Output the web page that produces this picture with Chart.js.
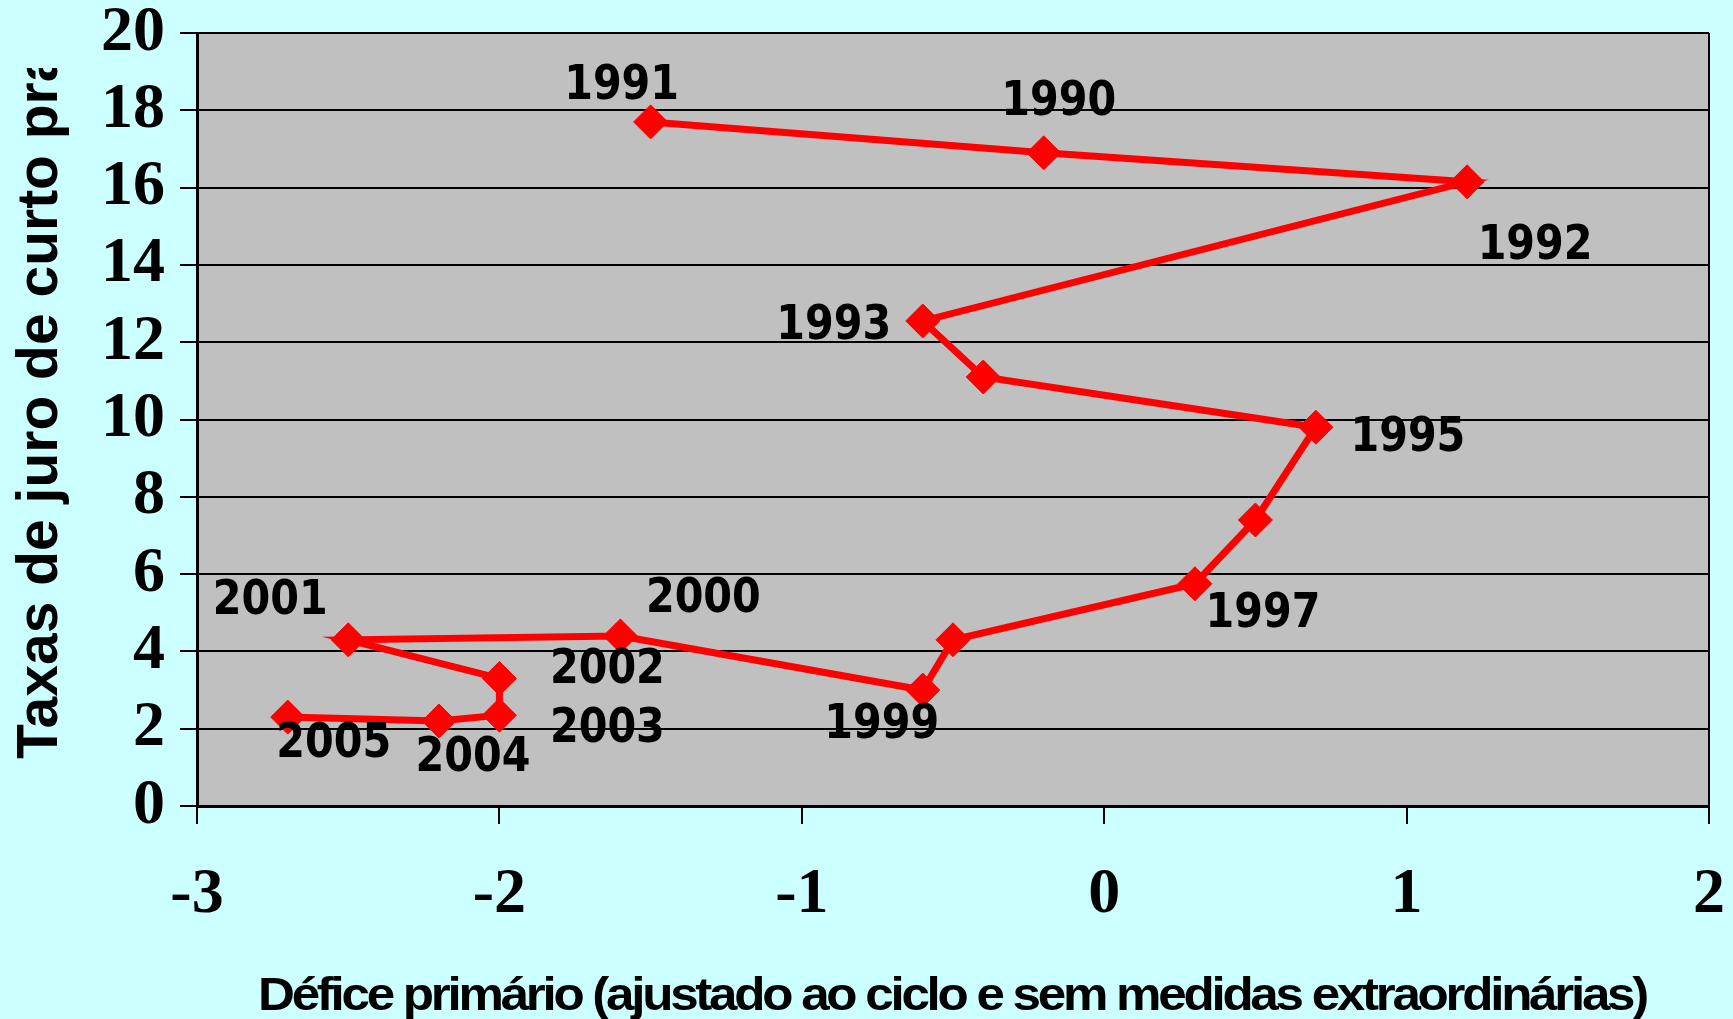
<!DOCTYPE html>
<html lang="pt">
<head>
<meta charset="utf-8">
<title>Défice primário e taxas de juro de curto prazo</title>
<script src="https://cdn.jsdelivr.net/npm/chart.js@4.4.1/dist/chart.umd.min.js"></script>
<style>
  html, body { margin: 0; padding: 0; background: #ccffff; overflow: hidden; }
  #wrap { width: 1733px; height: 1019px; position: relative; }
</style>
</head>
<body>
<div id="wrap"><canvas id="chart"></canvas></div>
<script>
// Valores, na ordem em que a linha é desenhada
const years = ['1991', '1990', '1992', '1993', '1994', '1995', '1996', '1997',
               '1998', '1999', '2000', '2001', '2002', '2003', '2004', '2005'];
const primaryDeficit = [-1.5, -0.2, 1.2, -0.6, -0.4, 0.7, 0.5, 0.3,
                        -0.5, -0.6, -1.6, -2.5, -2.0, -2.0, -2.2, -2.7];
const shortRates = [17.7, 16.9, 16.15, 12.55, 11.1, 9.8, 7.4, 5.75,
                    4.3, 3.0, 4.4, 4.3, 3.3, 2.35, 2.2, 2.3];
// anos sem rótulo no original
const hiddenLabels = ['1994', '1996', '1998'];
const xTicks = [-3, -2, -1, 0, 1, 2];
const yTicks = [0, 2, 4, 6, 8, 10, 12, 14, 16, 18, 20];

const xTitle = 'Défice primário (ajustado ao ciclo e sem medidas extraordinárias)';
const yTitle = 'Taxas de juro de curto prazo';

// deslocamento (px) de cada rótulo em relação ao seu ponto
const labelOffset = {
    '1991': [-29, -37], '1990': [15, -52], '1992': [68, 63], '1993': [-89, 4],
    '1995': [92, 9], '1997': [68, 29], '1999': [-41, 33], '2000': [83, -38],
    '2001': [-78, -40], '2002': [108, -10], '2003': [108, 12], '2004': [34, 36],
    '2005': [46, 25]
};

const points = years.map((y, i) => ({ x: primaryDeficit[i], y: shortRates[i] }));

const serif = '"Liberation Serif", "Times New Roman", serif';
const sans = '"Liberation Sans", Arial, sans-serif';

// fundo da página e da área do gráfico
const backgroundPlugin = {
    id: 'background',
    beforeDraw(chart) {
        const { ctx, chartArea: a } = chart;
        ctx.save();
        ctx.fillStyle = '#ccffff';
        ctx.fillRect(0, 0, chart.width, chart.height);
        ctx.fillStyle = '#c0c0c0';
        ctx.fillRect(a.left, a.top, a.right - a.left, a.bottom - a.top);
        ctx.restore();
    },
    beforeDatasetsDraw(chart) {
        const { ctx, chartArea: a } = chart;
        ctx.save();
        ctx.strokeStyle = '#000';
        ctx.lineWidth = 2;
        ctx.beginPath();
        ctx.moveTo(a.right, a.top);
        ctx.lineTo(a.right, a.bottom);
        ctx.stroke();
        ctx.restore();
    }
};

// rótulos dos anos
const yearLabelsPlugin = {
    id: 'yearLabels',
    afterDatasetsDraw(chart) {
        const { ctx } = chart;
        const meta = chart.getDatasetMeta(0);
        ctx.save();
        ctx.fillStyle = '#000';
        ctx.font = 'bold 48px "DejaVu Sans", Verdana, sans-serif';
        ctx.textAlign = 'center';
        ctx.textBaseline = 'middle';
        meta.data.forEach((pt, i) => {
            const year = years[i];
            if (hiddenLabels.includes(year)) return;
            const off = labelOffset[year] || [0, -30];
            ctx.save();
            ctx.translate(pt.x + off[0], pt.y + off[1]);
            ctx.scale(0.86, 1);
            ctx.fillText(year, 0, 2);
            ctx.restore();
        });
        ctx.restore();
    }
};

// títulos dos eixos (o do eixo y está cortado no original)
const axisTitlesPlugin = {
    id: 'axisTitles',
    afterDraw(chart) {
        const { ctx } = chart;
        ctx.save();
        ctx.fillStyle = '#000';
        ctx.font = 'bold 47px ' + sans;
        ctx.letterSpacing = '-3px';
        ctx.textBaseline = 'alphabetic';
        ctx.textAlign = 'left';
        const w = ctx.measureText(xTitle).width;
        const target = 1388;
        ctx.translate(952 - target / 2, 1010);
        ctx.scale(target / w, 1);
        ctx.fillText(xTitle, 0, 0);
        ctx.restore();

        ctx.save();
        ctx.beginPath();
        ctx.rect(0, 68, 150, chart.height - 68);
        ctx.clip();
        ctx.fillStyle = '#000';
        ctx.font = 'bold 57px ' + sans;
        ctx.textAlign = 'left';
        ctx.textBaseline = 'alphabetic';
        ctx.translate(57, 759);
        ctx.rotate(-Math.PI / 2);
        ctx.fillText(yTitle, 0, 0);
        ctx.restore();
    }
};

const ctx = document.getElementById('chart').getContext('2d');
const chart = new Chart(ctx, {
    type: 'scatter',
    data: {
        datasets: [{
            data: points,
            showLine: true,
            borderColor: '#ff0000',
            borderWidth: 7,
            backgroundColor: '#ff0000',
            pointStyle: 'rectRot',
            pointRadius: 17,
            pointBackgroundColor: '#ff0000',
            pointBorderColor: '#ff0000',
            pointBorderWidth: 1,
            tension: 0,
            clip: false
        }]
    },
    options: {
        responsive: true,
        maintainAspectRatio: false,
        animation: false,
        layout: { padding: { top: 33, right: 24, left: 0, bottom: 0 } },
        plugins: {
            legend: { display: false },
            tooltip: { enabled: false }
        },
        scales: {
            x: {
                type: 'linear',
                min: -3,
                max: 2,
                afterBuildTicks: s => { s.ticks = xTicks.map(v => ({ value: v })); },
                afterFit: s => {
                    s.height = 213;
                    s.paddingLeft = 0;
                    s.paddingRight = 0;
                },
                grid: { drawOnChartArea: false, color: '#000', lineWidth: 2, tickLength: 18 },
                border: { color: '#000', width: 3 },
                ticks: {
                    color: '#000',
                    font: { family: serif, size: 64, weight: 'bold', lineHeight: 1 },
                    padding: 39,
                    maxRotation: 0,
                    autoSkip: false,
                    callback: v => String(v)
                }
            },
            y: {
                type: 'linear',
                min: 0,
                max: 20,
                afterBuildTicks: s => { s.ticks = yTicks.map(v => ({ value: v })); },
                afterFit: s => {
                    s.width = 197;
                    s.paddingTop = 0;
                    s.paddingBottom = 0;
                },
                grid: { color: '#000', lineWidth: 2, tickLength: 17 },
                border: { color: '#000', width: 3 },
                ticks: {
                    color: '#000',
                    font: { family: serif, size: 64, weight: 'bold', lineHeight: 1 },
                    padding: 15,
                    autoSkip: false,
                    callback: v => String(v)
                }
            }
        }
    },
    plugins: [backgroundPlugin, yearLabelsPlugin, axisTitlesPlugin]
});
</script>
</body>
</html>
